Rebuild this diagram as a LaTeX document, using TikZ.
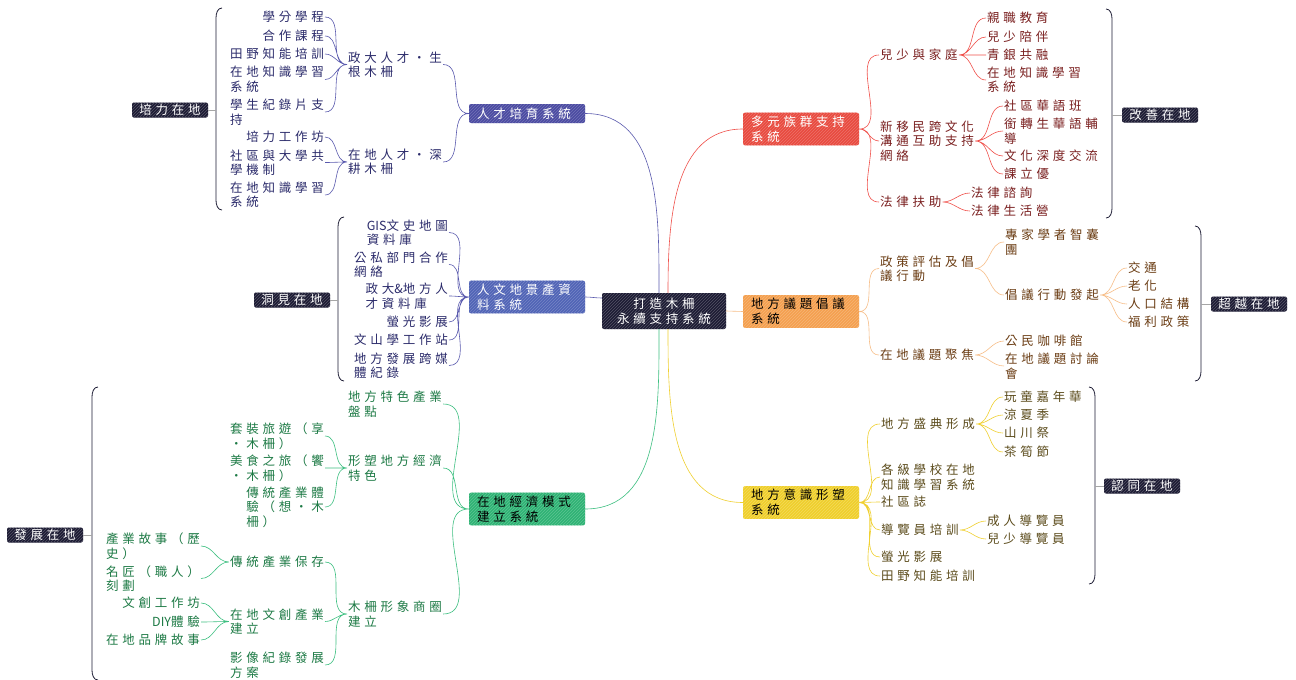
\documentclass[tikz,border=0pt]{standalone}
\usepackage{fontspec}
\setmainfont{Noto Sans CJK TC}[LetterSpace=30]
\newfontfamily\latin{Noto Sans CJK TC}
\usepackage{xcolor}
\usetikzlibrary{patterns}

\definecolor{ink}{HTML}{1C1B33}
\definecolor{talent}{HTML}{4B4BA2}
\definecolor{human}{HTML}{5064B6}
\definecolor{econ}{HTML}{2FB374}
\definecolor{ethnic}{HTML}{E84A3F}
\definecolor{issue}{HTML}{F4A04F}
\definecolor{ident}{HTML}{EFCF2C}
\definecolor{blueln}{HTML}{5A5AAE}
\definecolor{greenln}{HTML}{3CBF80}
\definecolor{redln}{HTML}{F0504A}
\definecolor{orangeln}{HTML}{F7BE88}
\definecolor{yellowln}{HTML}{F0D030}
\definecolor{bluetx}{HTML}{2B2B6B}
\definecolor{greentx}{HTML}{1D7A45}
\definecolor{redtx}{HTML}{7A1F1F}
\definecolor{orangetx}{HTML}{6B3D14}
\definecolor{yellowtx}{HTML}{5C4C1C}

\begin{document}
\begin{tikzpicture}[
  x=1pt, y=1pt,
  txt/.style={inner xsep=1pt, inner ysep=1pt, align=left,
    font=\fontsize{12.5}{14.5}\selectfont},
  bltxt/.style={txt, text=bluetx},
  grtxt/.style={txt, text=greentx},
  rdtx/.style={txt, text=redtx},
  ortxt/.style={txt, text=orangetx},
  yltxt/.style={txt, text=yellowtx},
  topic/.style={fill=#1, postaction={pattern=north east lines,
      pattern color=#1!78!white},
    rounded corners=2pt, text width=100pt,
    inner xsep=8pt, inner ysep=3pt, minimum height=19pt, align=left,
    font=\fontsize{12.5}{15}\selectfont},
  core/.style={fill=ink, postaction={pattern=north east lines,
      pattern color=ink!75!white},
    text=white, rounded corners=2pt,
    minimum width=124pt, minimum height=36pt, align=center,
    font=\fontsize{12.5}{15}\selectfont},
  sumbox/.style={fill=ink, postaction={pattern=north east lines,
      pattern color=ink!75!white},
    text=white, rounded corners=2pt,
    minimum width=76pt, minimum height=15pt, inner ysep=1pt,
    font=\fontsize{12.5}{13}\selectfont},
  brace/.style={draw=ink, line width=0.8pt},
  tick/.style={draw=gray!70, line width=0.6pt},
  bl/.style={draw=blueln, line width=0.6pt},
  gr/.style={draw=greenln, line width=0.6pt},
  rd/.style={draw=redln, line width=0.6pt},
  og/.style={draw=orangeln, line width=0.6pt},
  yl/.style={draw=yellowln, line width=0.6pt}
]
\useasboundingbox (0,0) rectangle (1296,-680);
\fill[white] (0,0) rectangle (1296,-680);

% ---- Core ----
\node[core] (core) at (664,-311) {打造木柵\\永續支持系統};

% ---- Topics ----
\node[topic=talent, text=white] (Ta) at (527,-113.5) {人才培育系統};
\node[topic=human, text=white] (Tb) at (527,-297) {人文地景產資\\料系統};
\node[topic=econ, text=black] (Tc) at (527,-509) {在地經濟模式\\建立系統};
\node[topic=ethnic, text=white] (Ra) at (801,-129) {多元族群支持\\系統};
\node[topic=issue, text=black] (Rb) at (801,-311.5) {地方議題倡議\\系統};
\node[topic=ident, text=black] (Rc) at (801,-502.5) {地方意識形塑\\系統};

\draw[bl] ([xshift=-5pt]core.north) to[out=90,in=0] (Ta.east);
\draw[bl] (Tb.east) to[out=0,in=180] ([yshift=13pt]core.west);
\draw[gr] ([xshift=-5pt]core.south) to[out=-90,in=0] (Tc.east);
\draw[rd] ([xshift=4pt]core.north) to[out=90,in=180] (Ra.west);
\draw[og] (core.east) -- (Rb.west);
\draw[yl] ([xshift=4pt]core.south) to[out=-90,in=180] (Rc.west);

% ---- 人才培育系統 ----
\node[bltxt, anchor=west] (Ta1) at (347,-64.5) {政大人才・生\\根木柵};
\node[bltxt, anchor=west] (Ta2) at (347,-162) {在地人才・深\\耕木柵};
\node[bltxt, anchor=east] (Ta11) at (325,-17) {學分學程};
\node[bltxt, anchor=east] (Ta12) at (325,-36) {合作課程};
\node[bltxt, anchor=east] (Ta13) at (325,-54) {田野知能培訓};
\node[bltxt, anchor=east] (Ta14) at (325,-79.5) {在地知識學習\\系統};
\node[bltxt, anchor=east] (Ta15) at (325,-112) {學生紀錄片支\\持};
\node[bltxt, anchor=east] (Ta21) at (325,-137) {培力工作坊};
\node[bltxt, anchor=east] (Ta22) at (325,-162.5) {社區與大學共\\學機制};
\node[bltxt, anchor=east] (Ta23) at (325,-195) {在地知識學習\\系統};

\draw[bl] (Ta.west) to[out=180,in=0] (Ta1.east)
          (Ta.west) to[out=180,in=0] (Ta2.east);
\draw[bl] (Ta1.west) to[out=180,in=0] (Ta11.east)
          (Ta1.west) to[out=180,in=0] (Ta12.east)
          (Ta1.west) to[out=180,in=0] (Ta13.east)
          (Ta1.west) to[out=180,in=0] (Ta14.east)
          (Ta1.west) to[out=180,in=0] (Ta15.east);
\draw[bl] (Ta2.west) to[out=180,in=0] (Ta21.east)
          (Ta2.west) to[out=180,in=0] (Ta22.east)
          (Ta2.west) to[out=180,in=0] (Ta23.east);

% ---- 人文地景產資料系統 ----
\node[bltxt, anchor=east] (Tb1) at (449,-232.5) {{\latin GIS}文史地圖\\資料庫};
\node[bltxt, anchor=east] (Tb2) at (449,-264.5) {公私部門合作\\網絡};
\node[bltxt, anchor=east] (Tb3) at (449,-296) {政大{\latin\&}地方人\\才資料庫};
\node[bltxt, anchor=east] (Tb4) at (449,-322) {螢光影展};
\node[bltxt, anchor=east] (Tb5) at (449,-340) {文山學工作站};
\node[bltxt, anchor=east] (Tb6) at (449,-365.5) {地方發展跨媒\\體紀錄};

\draw[bl] (Tb.west) to[out=180,in=0] (Tb1.east)
          (Tb.west) to[out=180,in=0] (Tb2.east)
          (Tb.west) to[out=180,in=0] (Tb3.east)
          (Tb.west) to[out=180,in=0] (Tb4.east)
          (Tb.west) to[out=180,in=0] (Tb5.east)
          (Tb.west) to[out=180,in=0] (Tb6.east);

% ---- 在地經濟模式建立系統 ----
\node[grtxt, anchor=west] (Tc1) at (347,-404) {地方特色產業\\盤點};
\node[grtxt, anchor=west] (Tc2) at (347,-468) {形塑地方經濟\\特色};
\node[grtxt, anchor=west] (Tc3) at (347,-614) {木柵形象商圈\\建立};
\node[grtxt, anchor=east] (Tc21) at (325,-436) {套裝旅遊（享\\・木柵）};
\node[grtxt, anchor=east] (Tc22) at (325,-468) {美食之旅（饗\\・木柵）};
\node[grtxt, anchor=east] (Tc23) at (325,-507) {傳統產業體\\驗（想・木\\柵）};
\node[grtxt, anchor=east] (Tc31) at (325,-562) {傳統產業保存};
\node[grtxt, anchor=east] (Tc32) at (325,-621.5) {在地文創產業\\建立};
\node[grtxt, anchor=east] (Tc33) at (325,-665) {影像紀錄發展\\方案};
\node[grtxt, anchor=east] (Tc311) at (201,-546) {產業故事（歷\\史）};
\node[grtxt, anchor=east] (Tc312) at (201,-578.5) {名匠（職人）\\刻劃};
\node[grtxt, anchor=east] (Tc321) at (201,-603) {文創工作坊};
\node[grtxt, anchor=east] (Tc322) at (201,-622) {{\latin DIY}體驗};
\node[grtxt, anchor=east] (Tc323) at (201,-640) {在地品牌故事};

\draw[gr] (Tc.west) to[out=180,in=0] (Tc1.east)
          (Tc.west) to[out=180,in=0] (Tc2.east)
          (Tc.west) to[out=180,in=0] (Tc3.east);
\draw[gr] (Tc2.west) to[out=180,in=0] (Tc21.east)
          (Tc2.west) to[out=180,in=0] (Tc22.east)
          (Tc2.west) to[out=180,in=0] (Tc23.east);
\draw[gr] (Tc3.west) to[out=180,in=0] (Tc31.east)
          (Tc3.west) to[out=180,in=0] (Tc32.east)
          (Tc3.west) to[out=180,in=0] (Tc33.east);
\draw[gr] (Tc31.west) to[out=180,in=0] (Tc311.east)
          (Tc31.west) to[out=180,in=0] (Tc312.east);
\draw[gr] (Tc32.west) to[out=180,in=0] (Tc321.east)
          (Tc32.west) to[out=180,in=0] (Tc322.east)
          (Tc32.west) to[out=180,in=0] (Tc323.east);

% ---- 多元族群支持系統 ----
\node[rdtx, anchor=west] (Ra1) at (879,-55) {兒少與家庭};
\node[rdtx, anchor=west] (Ra2) at (879,-141) {新移民跨文化\\溝通互助支持\\網絡};
\node[rdtx, anchor=west] (Ra3) at (879,-202) {法律扶助};
\node[rdtx, anchor=west] (Ra11) at (986,-18) {親職教育};
\node[rdtx, anchor=west] (Ra12) at (986,-37) {兒少陪伴};
\node[rdtx, anchor=west] (Ra13) at (986,-55) {青銀共融};
\node[rdtx, anchor=west] (Ra14) at (986,-80) {在地知識學習\\系統};
\node[rdtx, anchor=west] (Ra21) at (1003,-106) {社區華語班};
\node[rdtx, anchor=west] (Ra22) at (1003,-131) {銜轉生華語輔\\導};
\node[rdtx, anchor=west] (Ra23) at (1003,-156) {文化深度交流};
\node[rdtx, anchor=west] (Ra24) at (1003,-174) {課立優};
\node[rdtx, anchor=west] (Ra31) at (970,-193) {法律諮詢};
\node[rdtx, anchor=west] (Ra32) at (970,-211) {法律生活營};

\draw[rd] (Ra.east) to[out=0,in=180] (Ra1.west)
          (Ra.east) to[out=0,in=180] (Ra2.west)
          (Ra.east) to[out=0,in=180] (Ra3.west);
\draw[rd] (Ra1.east) to[out=0,in=180] (Ra11.west)
          (Ra1.east) to[out=0,in=180] (Ra12.west)
          (Ra1.east) to[out=0,in=180] (Ra13.west)
          (Ra1.east) to[out=0,in=180] (Ra14.west);
\draw[rd] (Ra2.east) to[out=0,in=180] (Ra21.west)
          (Ra2.east) to[out=0,in=180] (Ra22.west)
          (Ra2.east) to[out=0,in=180] (Ra23.west)
          (Ra2.east) to[out=0,in=180] (Ra24.west);
\draw[rd] (Ra3.east) to[out=0,in=180] (Ra31.west)
          (Ra3.east) to[out=0,in=180] (Ra32.west);

% ---- 地方議題倡議系統 ----
\node[ortxt, anchor=west] (Rb1) at (879,-268.5) {政策評估及倡\\議行動};
\node[ortxt, anchor=west] (Rb2) at (879,-355) {在地議題聚焦};
\node[ortxt, anchor=west] (Rb11) at (1004,-242) {專家學者智囊\\團};
\node[ortxt, anchor=west] (Rb12) at (1004,-295) {倡議行動發起};
\node[ortxt, anchor=west] (Rb21) at (1004,-341) {公民咖啡館};
\node[ortxt, anchor=west] (Rb22) at (1004,-366) {在地議題討論\\會};
\node[ortxt, anchor=west] (Rb121) at (1127,-268) {交通};
\node[ortxt, anchor=west] (Rb122) at (1127,-286) {老化};
\node[ortxt, anchor=west] (Rb123) at (1127,-304) {人口結構};
\node[ortxt, anchor=west] (Rb124) at (1127,-322) {福利政策};

\draw[og] (Rb.east) to[out=0,in=180] (Rb1.west)
          (Rb.east) to[out=0,in=180] (Rb2.west);
\draw[og] (Rb1.east) to[out=0,in=180] (Rb11.west)
          (Rb1.east) to[out=0,in=180] (Rb12.west);
\draw[og] (Rb2.east) to[out=0,in=180] (Rb21.west)
          (Rb2.east) to[out=0,in=180] (Rb22.west);
\draw[og] (Rb12.east) to[out=0,in=180] (Rb121.west)
          (Rb12.east) to[out=0,in=180] (Rb122.west)
          (Rb12.east) to[out=0,in=180] (Rb123.west)
          (Rb12.east) to[out=0,in=180] (Rb124.west);

% ---- 地方意識形塑系統 ----
\node[yltxt, anchor=west] (Rc1) at (880,-424) {地方盛典形成};
\node[yltxt, anchor=west] (Rc2) at (880,-477) {各級學校在地\\知識學習系統};
\node[yltxt, anchor=west] (Rc3) at (880,-502) {社區誌};
\node[yltxt, anchor=west] (Rc4) at (880,-530) {導覽員培訓};
\node[yltxt, anchor=west] (Rc5) at (880,-557) {螢光影展};
\node[yltxt, anchor=west] (Rc6) at (880,-576) {田野知能培訓};
\node[yltxt, anchor=west] (Rc11) at (1003,-397) {玩童嘉年華};
\node[yltxt, anchor=west] (Rc12) at (1003,-415) {涼夏季};
\node[yltxt, anchor=west] (Rc13) at (1003,-433) {山川祭};
\node[yltxt, anchor=west] (Rc14) at (1003,-452) {茶筍節};
\node[yltxt, anchor=west] (Rc41) at (986,-521) {成人導覽員};
\node[yltxt, anchor=west] (Rc42) at (986,-539) {兒少導覽員};

\draw[yl] (Rc.east) to[out=0,in=180] (Rc1.west)
          (Rc.east) to[out=0,in=180] (Rc2.west)
          (Rc.east) to[out=0,in=180] (Rc3.west)
          (Rc.east) to[out=0,in=180] (Rc4.west)
          (Rc.east) to[out=0,in=180] (Rc5.west)
          (Rc.east) to[out=0,in=180] (Rc6.west);
\draw[yl] (Rc1.east) to[out=0,in=180] (Rc11.west)
          (Rc1.east) to[out=0,in=180] (Rc12.west)
          (Rc1.east) to[out=0,in=180] (Rc13.west)
          (Rc1.east) to[out=0,in=180] (Rc14.west);
\draw[yl] (Rc4.east) to[out=0,in=180] (Rc41.west)
          (Rc4.east) to[out=0,in=180] (Rc42.west);

% ---- Summary brackets (left) ----
\draw[brace] (222,-8) to[out=180,in=90] (216,-18) -- (216,-200)
  to[out=-90,in=180] (222,-210);
\coordinate (Ba) at (216,-110);
\node[sumbox] (Sa) at (170,-110) {培力在地};
\draw[tick] (Sa) -- (Ba);

\draw[brace] (344,-217) to[out=180,in=90] (338,-227) -- (338,-371)
  to[out=-90,in=180] (344,-381);
\coordinate (Bb) at (338,-300);
\node[sumbox] (Sb) at (292,-300) {洞見在地};
\draw[tick] (Sb) -- (Bb);

\draw[brace] (98,-387) to[out=180,in=90] (92,-397) -- (92,-670)
  to[out=-90,in=180] (98,-680);
\coordinate (Bc) at (92,-535);
\node[sumbox] (Sc) at (45,-535) {發展在地};
\draw[tick] (Sc) -- (Bc);

% ---- Summary brackets (right) ----
\draw[brace] (1106,-9) to[out=0,in=90] (1112,-19) -- (1112,-208)
  to[out=-90,in=0] (1106,-218);
\coordinate (Bd) at (1112,-115);
\node[sumbox] (Sd) at (1160,-115) {改善在地};
\draw[tick] (Sd) -- (Bd);

\draw[brace] (1195,-226) to[out=0,in=90] (1201,-236) -- (1201,-371)
  to[out=-90,in=0] (1195,-381);
\coordinate (Be) at (1201,-304);
\node[sumbox] (Se) at (1249,-304) {超越在地};
\draw[tick] (Se) -- (Be);

\draw[brace] (1089,-387) to[out=0,in=90] (1095,-397) -- (1095,-574)
  to[out=-90,in=0] (1089,-584);
\coordinate (Bf) at (1095,-486);
\node[sumbox] (Sf) at (1142,-486) {認同在地};
\draw[tick] (Sf) -- (Bf);

\end{tikzpicture}
\end{document}
